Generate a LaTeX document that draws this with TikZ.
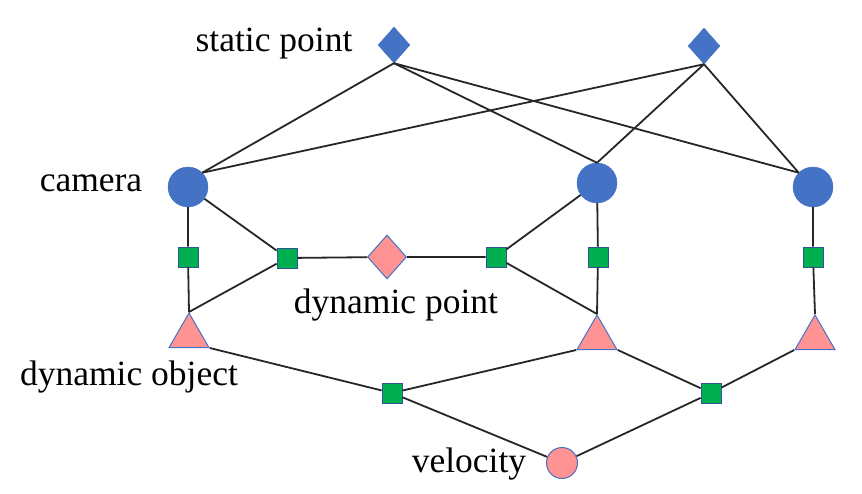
\documentclass[tikz,border=0pt]{standalone}
\usepackage{fontspec}
\setmainfont{Liberation Serif}
\usetikzlibrary{shapes.geometric}
\definecolor{nodeblue}{HTML}{4472C4}
\definecolor{nodepink}{HTML}{FF9393}
\definecolor{nodegreen}{HTML}{00B050}
\definecolor{edgeblue}{HTML}{2F5597}

\begin{document}
\begin{tikzpicture}[x=1pt, y=-1pt,
        staticpt/.style={diamond, fill=nodeblue, draw=nodeblue, inner sep=0pt, minimum width=32pt, minimum height=36pt},
        dynpt/.style={diamond, fill=nodepink, draw=nodeblue, line width=1pt, inner sep=0pt, minimum width=39pt, minimum height=44pt},
        cam/.style={circle, fill=nodeblue, draw=nodeblue, inner sep=0pt, minimum size=40pt},
        factor/.style={rectangle, fill=nodegreen, draw=edgeblue, line width=0.8pt, inner sep=0pt, minimum size=20pt},
        dynobj/.style={regular polygon, regular polygon sides=3, fill=nodepink, draw=nodeblue, line width=1pt, inner sep=0pt, minimum size=46pt},
        vel/.style={circle, fill=nodepink, draw=nodeblue, line width=1pt, inner sep=0pt, minimum size=31pt},
        lbl/.style={font=\fontsize{35.5}{40}\selectfont, inner sep=0pt, anchor=base},
        link/.style={line width=1.8pt, black!85}]
        \useasboundingbox (0,0) rectangle (862,494);

        \node[staticpt] (sp1) at (394,45) {};
        \node[staticpt] (sp2) at (704,46) {};
        \node[cam] (cam1) at (188,187) {};
        \node[cam] (cam2) at (597,183) {};
        \node[cam] (cam3) at (813,187) {};
        \node[factor] (f1) at (188,257) {};
        \node[factor] (f2) at (287,258) {};
        \node[factor] (f3) at (496,257) {};
        \node[factor] (f4) at (598,257) {};
        \node[factor] (f5) at (813,257) {};
        \node[factor] (f6) at (392,393) {};
        \node[factor] (f7) at (711,393) {};
        \node[dynpt] (dp) at (387,257) {};
        \node[dynobj] (obj1) at (189,336) {};
        \node[dynobj] (obj2) at (597,338) {};
        \node[dynobj] (obj3) at (815,338) {};
        \node[vel] (v) at (562,463) {};

        \node[lbl] (lsp) at (274,52) {static point};
        \node[lbl] (lcam) at (91,192) {camera};
        \node[lbl] (ldp) at (396,313) {dynamic point};
        \node[lbl] (lobj) at (129,385) {dynamic object};
        \node[lbl] (lv) at (469,472) {velocity};

        \draw[link] (sp1.south) -- (cam1.45);
        \draw[link] (sp1.south) -- (cam2.north);
        \draw[link] (sp1.south) -- (cam3.135);
        \draw[link] (sp2.south) -- (cam1.45);
        \draw[link] (sp2.south) -- (cam2.north);
        \draw[link] (sp2.south) -- (cam3.135);

        \draw[link] (cam1) -- (f1) -- (obj1.corner 1);
        \draw[link] (cam1) -- (f2);
        \draw[link] (f2) -- (obj1.corner 1);
        \draw[link] (f2) -- (dp) -- (f3);
        \draw[link] (f3) -- (cam2);
        \draw[link] (f3) -- (obj2.corner 1);
        \draw[link] (cam2) -- (f4) -- (obj2.corner 1);
        \draw[link] (cam3) -- (f5) -- (obj3.corner 1);

        \draw[link] (obj1.corner 3) -- (f6) -- (obj2.corner 2);
        \draw[link] (f6) -- (v);
        \draw[link] (obj2.corner 3) -- (f7) -- (obj3.corner 2);
        \draw[link] (f7) -- (v);
\end{tikzpicture}
\end{document}
